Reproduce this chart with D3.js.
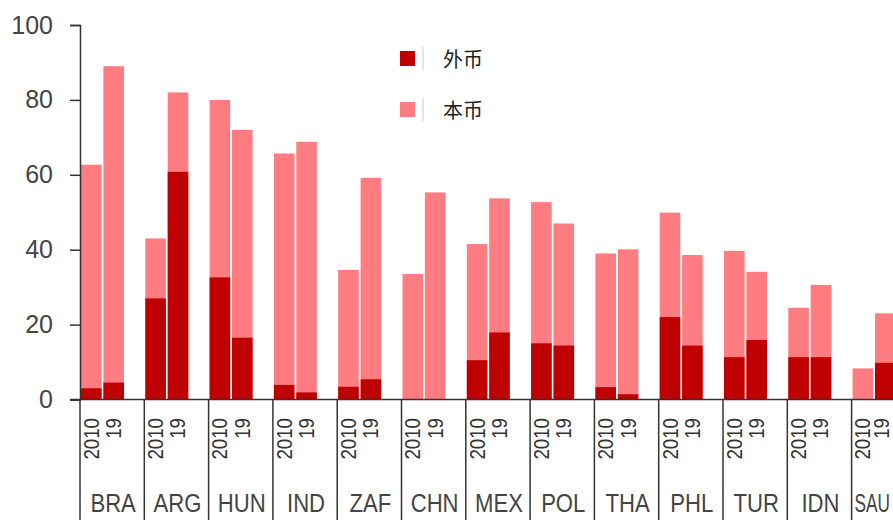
<!DOCTYPE html>
<html>
<head>
<meta charset="utf-8">
<script src="https://cdn.jsdelivr.net/npm/d3@7"></script>
<style>
  body { margin: 0; background: #fff; }
  svg { display: block; }
</style>
</head>
<body>
<script>
const countries = ['BRA', 'ARG', 'HUN', 'IND', 'ZAF', 'CHN', 'MEX', 'POL', 'THA', 'PHL', 'TUR', 'IDN', 'SAU'];
const years = ['2010', '19'];

// foreign currency share (外币), per country: [2010, 2019]
const foreign = [
    [3.0, 4.5], [27, 60.8], [32.6, 16.5], [3.9, 1.9], [3.4, 5.4], [0, 0], [10.5, 17.9],
    [15, 14.4], [3.3, 1.4], [22, 14.4], [11.3, 15.9], [11.3, 11.3], [0, 9.8],
];
// total (本币 + 外币), per country: [2010, 2019]
const total = [
    [62.7, 89], [43, 82], [80, 72], [65.7, 68.8], [34.6, 59.2], [33.5, 55.3], [41.5, 53.7],
    [52.7, 47], [39, 40.1], [49.9, 38.6], [39.7, 34.1], [24.5, 30.6], [8.3, 23],
];
const yTicks = [0, 20, 40, 60, 80, 100];

const width = 893;
const height = 520;
const left = 80;
const groupW = 64.3;
const y0 = 399.5;

const darkRed = '#C00000';
const pink = '#FF7C80';

const svg = d3.select('body').append('svg')
    .attr('width', width)
    .attr('height', height);

const x0 = d3.scaleBand()
    .domain(countries)
    .range([left, left + groupW * countries.length]);

const x1 = d3.scaleBand()
    .domain(years)
    .range([1, 44])
    .paddingInner(0.08);

const y = d3.scaleLinear()
    .domain([0, 100])
    .range([y0, 25]);

// bars
const rows = [];
countries.forEach((c, i) => {
    years.forEach((yr, j) => {
        rows.push({ c, yr, foreign: foreign[i][j], total: total[i][j] });
    });
});

const g = svg.selectAll('.bar')
    .data(rows)
    .enter().append('g')
    .attr('class', 'bar')
    .attr('transform', d => `translate(${x0(d.c) + x1(d.yr)},0)`);

g.append('rect')
    .attr('y', d => y(d.total))
    .attr('width', x1.bandwidth())
    .attr('height', d => y(0) - y(d.total))
    .attr('fill', pink);

g.append('rect')
    .attr('y', d => y(d.foreign))
    .attr('width', x1.bandwidth())
    .attr('height', d => y(0) - y(d.foreign))
    .attr('fill', darkRed);

// y axis
const yAxis = svg.append('g')
    .attr('transform', `translate(${left},0)`)
    .call(d3.axisLeft(y).tickValues(yTicks).tickSize(10).tickPadding(17));
yAxis.select('.domain').attr('stroke', '#333').attr('stroke-width', 1.5);
yAxis.selectAll('.tick line').attr('stroke', '#333').attr('stroke-width', 1.5);
yAxis.selectAll('text')
    .attr('font-family', 'Liberation Sans, Arial, sans-serif')
    .attr('font-size', 25)
    .attr('fill', '#444');

// baseline
svg.append('line')
    .attr('x1', left - 10).attr('x2', width)
    .attr('y1', y0).attr('y2', y0)
    .attr('stroke', '#333').attr('stroke-width', 1.5);

// group separators
svg.selectAll('.sep')
    .data(countries)
    .enter().append('line')
    .attr('class', 'sep')
    .attr('x1', d => x0(d)).attr('x2', d => x0(d))
    .attr('y1', y0).attr('y2', height)
    .attr('stroke', '#333').attr('stroke-width', 1.5);

// year labels (narrow, a bit squeezed along the text); keep the last inside the frame
svg.selectAll('.yr')
    .data(rows)
    .enter().append('text')
    .attr('class', 'yr')
    .attr('transform', d => {
        const cx = Math.min(x0(d.c) + x1(d.yr) + x1.bandwidth() / 2, width - 12);
        return `translate(${cx},418) rotate(-90)`;
    })
    .attr('text-anchor', 'end')
    .attr('dominant-baseline', 'central')
    .attr('font-family', 'Liberation Sans, Arial, sans-serif')
    .attr('font-size', 22)
    .attr('fill', '#333')
    .text(d => d.yr)
    .each(function () {
        const w = this.getComputedTextLength();
        d3.select(this)
            .attr('textLength', w * 0.85)
            .attr('lengthAdjust', 'spacingAndGlyphs');
    });

// country labels; the last group is cut by the frame, so squeeze its label into what is left
svg.selectAll('.ctry')
    .data(countries)
    .enter().append('text')
    .attr('class', 'ctry')
    .attr('y', 512)
    .attr('text-anchor', 'middle')
    .attr('font-family', 'Liberation Sans, Arial, sans-serif')
    .attr('font-size', 26)
    .attr('fill', '#444')
    .text(d => d)
    .each(function (d) {
        const room = width - x0(d) - 6;
        const w = Math.min(this.getComputedTextLength() * 0.85, room);
        const cx = Math.min(x0(d) + x0.bandwidth() / 2 + 1, x0(d) + 3 + room / 2);
        d3.select(this)
            .attr('x', cx)
            .attr('textLength', w)
            .attr('lengthAdjust', 'spacingAndGlyphs');
    });

// legend
const legend = [
    { label: '外币', color: darkRed, y: 51 },
    { label: '本币', color: pink, y: 102 },
];
const lg = svg.selectAll('.legend')
    .data(legend)
    .enter().append('g')
    .attr('class', 'legend')
    .attr('transform', d => `translate(400,${d.y})`);

lg.append('rect')
    .attr('width', 15).attr('height', 15)
    .attr('fill', d => d.color);

lg.append('line')
    .attr('x1', 23).attr('x2', 23)
    .attr('y1', -4).attr('y2', 19)
    .attr('stroke', '#ccc');

lg.append('text')
    .attr('x', 43)
    .attr('y', 7.5)
    .attr('dominant-baseline', 'central')
    .attr('font-family', 'Noto Sans CJK SC, sans-serif')
    .attr('font-size', 20)
    .attr('fill', '#222')
    .text(d => d.label);
</script>
</body>
</html>
